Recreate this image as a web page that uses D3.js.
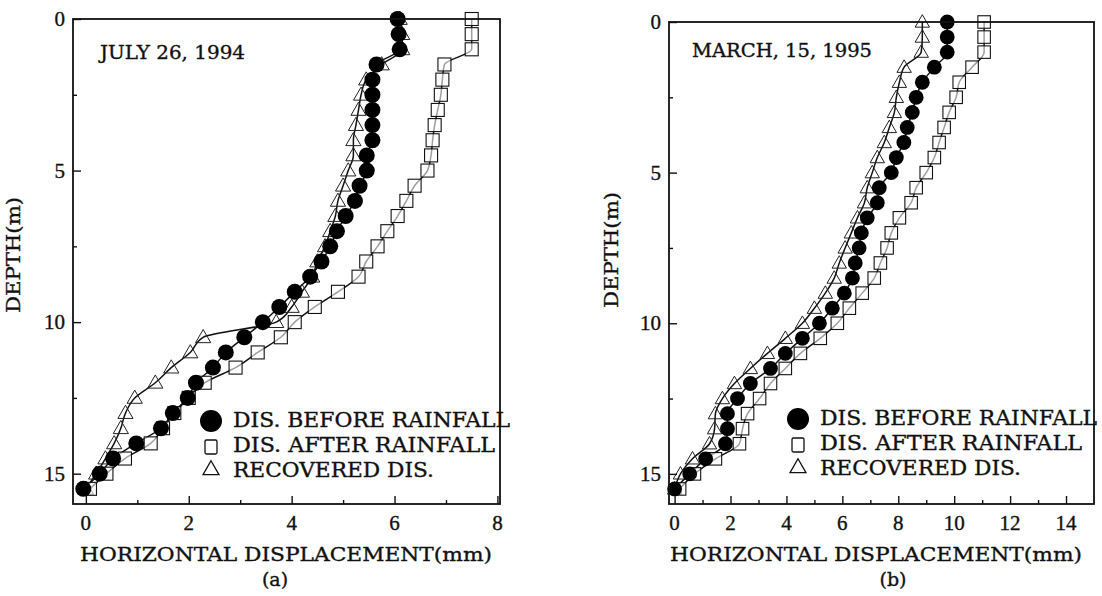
<!DOCTYPE html>
<html>
<head>
<meta charset="utf-8">
<script src="https://cdn.jsdelivr.net/npm/d3@7"></script>
<style>
  body { margin: 0; background: #fff; }
  text { fill: #111; stroke: #111; stroke-width: 0.35px; }
</style>
</head>
<body>
<svg width="1102" height="596"></svg>
<script>
// depths of the inclinometer readings (m)
let depths = [0, 0.5, 1, 1.5, 2, 2.5, 3, 3.5, 4, 4.5, 5, 5.5, 6, 6.5, 7, 7.5,
              8, 8.5, 9, 9.5, 10, 10.5, 11, 11.5, 12, 12.5, 13, 13.5, 14, 14.5, 15, 15.5];

// (a) July 26, 1994 - horizontal displacement (mm)
let julyBefore = [6.06, 6.08, 6.1, 5.65, 5.57, 5.57, 5.57, 5.57, 5.57, 5.46, 5.46, 5.32, 5.23, 5.05, 4.88, 4.75,
                  4.58, 4.36, 4.06, 3.76, 3.44, 3.08, 2.72, 2.47, 2.14, 1.98, 1.69, 1.46, 0.98, 0.53, 0.27, -0.05];
let julyAfter = [7.5, 7.5, 7.5, 6.97, 6.93, 6.9, 6.84, 6.78, 6.74, 6.71, 6.64, 6.39, 6.23, 6.06, 5.86, 5.67,
                 5.45, 5.3, 4.9, 4.45, 4.06, 3.79, 3.34, 2.91, 2.31, 2.0, 1.72, 1.5, 1.26, 0.76, 0.4, 0.08];
let julyRecovered = [6.1, 6.15, 6.15, 5.75, 5.45, 5.35, 5.3, 5.25, 5.2, 5.2, 5.1, 5.0, 4.9, 4.85, 4.75, 4.65,
                     4.5, 4.4, 4.2, 4.0, 3.7, 2.28, 2.03, 1.66, 1.35, 0.95, 0.77, 0.68, 0.55, 0.38, 0.2, 0.0];

// (b) March 15, 1995 - horizontal displacement (mm)
let marchBefore = [9.75, 9.75, 9.75, 9.29, 8.86, 8.64, 8.5, 8.32, 8.2, 7.93, 7.75, 7.32, 7.25, 6.89, 6.68, 6.6,
                   6.46, 6.36, 6.07, 5.64, 5.18, 4.57, 3.96, 3.43, 2.71, 2.25, 1.89, 1.89, 1.82, 1.11, 0.54, 0.0];
let marchAfter = [11.07, 11.07, 11.07, 10.64, 10.18, 10.07, 9.82, 9.64, 9.46, 9.29, 9.0, 8.64, 8.46, 8.04, 7.75, 7.6,
                  7.36, 7.14, 6.71, 6.25, 5.82, 5.21, 4.5, 3.96, 3.43, 3.04, 2.61, 2.43, 2.32, 1.46, 0.71, 0.18];
let marchRecovered = [8.86, 8.86, 8.82, 8.21, 8.04, 7.93, 7.86, 7.68, 7.5, 7.25, 7.07, 6.89, 6.79, 6.54, 6.32, 6.1,
                      5.89, 5.71, 5.39, 5.0, 4.57, 3.96, 3.32, 2.71, 2.14, 1.71, 1.46, 1.43, 1.25, 0.64, 0.21, 0.0];

let legendLabels = ["DIS. BEFORE RAINFALL", "DIS. AFTER RAINFALL", "RECOVERED DIS."];
let depthTicks = [0, 5, 10, 15];
let depthMinor = [2.5, 7.5, 12.5];
let julyTicks = [0, 2, 4, 6, 8];
let julyMinor = [1, 3, 5, 7];
let marchTicks = [0, 2, 4, 6, 8, 10, 12, 14];
let marchMinor = [1, 3, 5, 7, 9, 11, 13];

let svg = d3.select("svg");
let serif = "'DejaVu Serif', serif";
let numFont = "'Liberation Serif', serif";

function panel(o) {
  let x = d3.scaleLinear().domain(o.xDomain).range([o.left, o.right]),
      y = d3.scaleLinear().domain([0, 16]).range([o.top, o.bottom]);
  let g = svg.append("g");

  let pts = function(vals) { return vals.map(function(v, i) { return [v, depths[i]]; }); };
  let line = d3.line().x(function(d) { return x(d[0]); }).y(function(d) { return y(d[1]); })
      .curve(d3.curveMonotoneY);

  // curves
  [o.recovered, o.after, o.before].forEach(function(s) {
    g.append("path").datum(pts(s)).attr("d", line)
      .attr("fill", "none").attr("stroke", "#111").attr("stroke-width", 1.5);
  });

  // markers
  let tri = d3.symbol().type(d3.symbolTriangle).size(o.triSize);
  g.append("g").selectAll("path").data(pts(o.recovered)).join("path")
    .attr("d", tri)
    .attr("transform", function(d) { return "translate(" + x(d[0]) + "," + (y(d[1]) + 1) + ")"; })
    .attr("fill", "none").attr("stroke", "#222").attr("stroke-width", 1);
  g.append("g").selectAll("rect").data(pts(o.after)).join("rect")
    .attr("x", function(d) { return x(d[0]) - o.sq / 2; })
    .attr("y", function(d) { return y(d[1]) - o.sq / 2; })
    .attr("width", o.sq).attr("height", o.sq)
    .attr("fill", "#fff").attr("fill-opacity", 0.6)
    .attr("stroke", "#111").attr("stroke-width", 1.1);
  g.append("g").selectAll("circle").data(pts(o.before)).join("circle")
    .attr("cx", function(d) { return x(d[0]); })
    .attr("cy", function(d) { return y(d[1]); })
    .attr("r", o.r).attr("fill", "#000");

  // frame
  g.append("rect").attr("x", o.left).attr("y", o.top)
    .attr("width", o.right - o.left).attr("height", o.bottom - o.top)
    .attr("fill", "none").attr("stroke", "#111").attr("stroke-width", 1.8);

  // inward ticks
  g.append("g").attr("transform", "translate(0," + o.bottom + ")")
    .call(d3.axisTop(x).tickValues(o.xTicks).tickSize(8).tickFormat(""));
  g.append("g").attr("transform", "translate(0," + o.bottom + ")")
    .call(d3.axisTop(x).tickValues(o.xMinor).tickSize(4).tickFormat(""));
  g.append("g").attr("transform", "translate(" + o.left + ",0)")
    .call(d3.axisRight(y).tickValues(depthTicks).tickSize(8).tickFormat(""));
  g.append("g").attr("transform", "translate(" + o.left + ",0)")
    .call(d3.axisRight(y).tickValues(depthMinor).tickSize(4).tickFormat(""));
  g.selectAll(".domain").remove();
  g.selectAll(".tick line").attr("stroke", "#111").attr("stroke-width", 1.4);

  // tick labels
  g.append("g").selectAll("text").data(o.xTicks).join("text")
    .attr("x", function(d) { return x(d); }).attr("y", 530)
    .attr("text-anchor", "middle").attr("font-family", numFont).attr("font-size", 21)
    .text(function(d) { return d; });
  g.append("g").selectAll("text").data(depthTicks).join("text")
    .attr("x", o.left - 8).attr("y", function(d) { return y(d) + 7; })
    .attr("text-anchor", "end").attr("font-family", numFont).attr("font-size", 21)
    .text(function(d) { return d; });

  // axis titles
  g.append("text").attr("transform", "translate(" + o.yLabelX + "," + o.yLabelY + ") rotate(-90)")
    .attr("text-anchor", "middle").attr("font-family", serif).attr("font-size", 18)
    .attr("textLength", 116).attr("lengthAdjust", "spacingAndGlyphs")
    .text("DEPTH(m)");
  g.append("text").attr("x", o.xLabelX).attr("y", 561)
    .attr("font-family", serif).attr("font-size", 19)
    .attr("textLength", 412).attr("lengthAdjust", "spacingAndGlyphs")
    .text("HORIZONTAL DISPLACEMENT(mm)");
  g.append("text").attr("x", o.subX).attr("y", 586).attr("text-anchor", "middle")
    .attr("font-family", serif).attr("font-size", 19).text(o.sub);

  // date
  g.append("text").attr("x", o.titleX).attr("y", o.titleY)
    .attr("font-family", serif).attr("font-size", 19)
    .attr("textLength", o.titleLen).attr("lengthAdjust", "spacingAndGlyphs")
    .text(o.title);

  // legend
  let lg = g.append("g");
  let lens = [277, 262, 201];
  legendLabels.forEach(function(t, i) {
    lg.append("text").attr("x", o.legX).attr("y", o.legY + i * 25)
      .attr("font-family", serif).attr("font-size", 20)
      .attr("textLength", lens[i]).attr("lengthAdjust", "spacingAndGlyphs")
      .text(t);
  });
  let mx = o.legX - 22, my = o.legY - 6;
  lg.append("circle").attr("cx", mx).attr("cy", my).attr("r", 11).attr("fill", "#000");
  lg.append("rect").attr("x", mx - 6).attr("y", my + 19).attr("width", 12).attr("height", 14)
    .attr("rx", 1.5).attr("fill", "none").attr("stroke", "#111").attr("stroke-width", 1.3);
  lg.append("path").attr("d", d3.symbol().type(d3.symbolTriangle).size(110))
    .attr("transform", "translate(" + mx + "," + (my + 49) + ")")
    .attr("fill", "none").attr("stroke", "#111").attr("stroke-width", 1.3);
}

panel({
  xDomain: [-0.25, 8.05], left: 73, right: 500, top: 19, bottom: 504,
  before: julyBefore, after: julyAfter, recovered: julyRecovered,
  xTicks: julyTicks, xMinor: julyMinor,
  r: 8, sq: 13, triSize: 100,
  yLabelX: 20, yLabelY: 255, xLabelX: 80, subX: 275, sub: "(a)",
  title: "JULY 26, 1994", titleX: 100, titleY: 59, titleLen: 145,
  legX: 233, legY: 427
});

panel({
  xDomain: [-0.2, 15], left: 669, right: 1094, top: 22, bottom: 504,
  before: marchBefore, after: marchAfter, recovered: marchRecovered,
  xTicks: marchTicks, xMinor: marchMinor,
  r: 7.4, sq: 12.5, triSize: 90,
  yLabelX: 618, yLabelY: 250, xLabelX: 670, subX: 893, sub: "(b)",
  title: "MARCH, 15, 1995", titleX: 692, titleY: 57, titleLen: 180,
  legX: 820, legY: 425
});
</script>
</body>
</html>
